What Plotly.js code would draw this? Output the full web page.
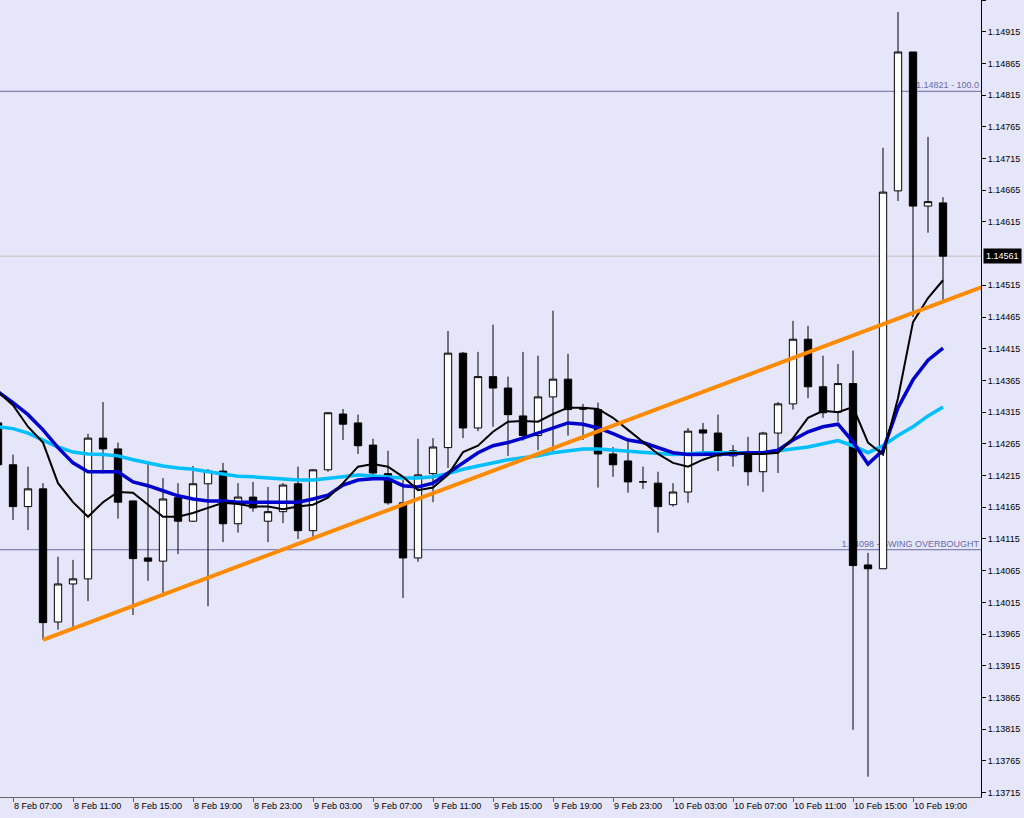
<!DOCTYPE html>
<html>
<head>
<meta charset="utf-8">
<script src="https://cdn.plot.ly/plotly-3.0.1.min.js"></script>
<style>html,body{margin:0;padding:0;background:#E6E6FA;}#chart{width:1024px;height:818px;}</style>
</head>
<body>
<div id="chart"></div>
<script>
// H1 bars, 8 Feb 06:00 -> 10 Feb 21:00
const times = [
 '2022-02-08 06:00','2022-02-08 07:00','2022-02-08 08:00','2022-02-08 09:00','2022-02-08 10:00','2022-02-08 11:00',
 '2022-02-08 12:00','2022-02-08 13:00','2022-02-08 14:00','2022-02-08 15:00','2022-02-08 16:00','2022-02-08 17:00',
 '2022-02-08 18:00','2022-02-08 19:00','2022-02-08 20:00','2022-02-08 21:00','2022-02-08 22:00','2022-02-08 23:00',
 '2022-02-09 00:00','2022-02-09 01:00','2022-02-09 02:00','2022-02-09 03:00','2022-02-09 04:00','2022-02-09 05:00',
 '2022-02-09 06:00','2022-02-09 07:00','2022-02-09 08:00','2022-02-09 09:00','2022-02-09 10:00','2022-02-09 11:00',
 '2022-02-09 12:00','2022-02-09 13:00','2022-02-09 14:00','2022-02-09 15:00','2022-02-09 16:00','2022-02-09 17:00',
 '2022-02-09 18:00','2022-02-09 19:00','2022-02-09 20:00','2022-02-09 21:00','2022-02-09 22:00','2022-02-09 23:00',
 '2022-02-10 00:00','2022-02-10 01:00','2022-02-10 02:00','2022-02-10 03:00','2022-02-10 04:00','2022-02-10 05:00',
 '2022-02-10 06:00','2022-02-10 07:00','2022-02-10 08:00','2022-02-10 09:00','2022-02-10 10:00','2022-02-10 11:00',
 '2022-02-10 12:00','2022-02-10 13:00','2022-02-10 14:00','2022-02-10 15:00','2022-02-10 16:00','2022-02-10 17:00',
 '2022-02-10 18:00','2022-02-10 19:00','2022-02-10 20:00','2022-02-10 21:00'
];
const openP = [1.14298,1.14232,1.14166,1.14194,1.13984,1.14044,1.14052,1.14274,1.14257,1.14175,1.14085,1.14080,
 1.14180,1.14143,1.14202,1.14222,1.14139,1.14181,1.14143,1.14158,1.14202,1.14128,1.14224,1.14312,
 1.14298,1.14263,1.14218,1.14172,1.14085,1.14218,1.14259,1.14408,1.14290,1.14371,1.14353,1.14309,
 1.14278,1.14339,1.14367,1.14320,1.14319,1.14249,1.14238,1.14205,1.14203,1.14169,1.14189,1.14287,
 1.14282,1.14246,1.14252,1.14221,1.14282,1.14328,1.14430,1.14355,1.14315,1.14360,1.14074,1.14068,
 1.14664,1.14883,1.14640,1.14645];
const highP = [1.14303,1.14248,1.14229,1.14203,1.14087,1.14082,1.14281,1.14331,1.14267,1.14175,1.14233,1.14211,
 1.14203,1.14230,1.14225,1.14235,1.14203,1.14205,1.14197,1.14203,1.14229,1.14225,1.14315,1.14320,
 1.14311,1.14273,1.14254,1.14208,1.14273,1.14274,1.14443,1.14410,1.14410,1.14453,1.14371,1.14410,
 1.14404,1.14475,1.14407,1.14328,1.14330,1.14260,1.14268,1.14229,1.14221,1.14203,1.14290,1.14298,
 1.14311,1.14263,1.14276,1.14284,1.14331,1.14459,1.14451,1.14404,1.14391,1.14412,1.14093,1.14732,
 1.14946,1.14883,1.14749,1.14654];
const lowP = [1.14224,1.14145,1.14129,1.13956,1.13972,1.13975,1.14017,1.14218,1.14147,1.13995,1.14049,1.14024,
 1.14091,1.14142,1.14009,1.14110,1.14125,1.14158,1.14110,1.14140,1.14115,1.14118,1.14221,1.14271,
 1.14249,1.14213,1.14169,1.14022,1.14079,1.14173,1.14227,1.14274,1.14285,1.14292,1.14246,1.14270,
 1.14255,1.14251,1.14278,1.14271,1.14196,1.14213,1.14188,1.14194,1.14125,1.14166,1.14172,1.14248,
 1.14222,1.14229,1.14199,1.14189,1.14219,1.14319,1.14337,1.14306,1.14300,1.13814,1.13740,1.14068,
 1.14648,1.14465,1.14598,1.14489];
const closeP = [1.14232,1.14166,1.14194,1.13983,1.14044,1.14052,1.14274,1.14257,1.14173,1.14084,1.14080,1.14178,
 1.14143,1.14202,1.14222,1.14139,1.14181,1.14164,1.14158,1.14200,1.14128,1.14224,1.14314,1.14296,
 1.14262,1.14219,1.14172,1.14085,1.14216,1.14260,1.14408,1.14290,1.14371,1.14353,1.14311,1.14278,
 1.14339,1.14367,1.14319,1.14320,1.14249,1.14232,1.14205,1.14205,1.14166,1.14189,1.14285,1.14282,
 1.14246,1.14254,1.14221,1.14282,1.14328,1.14430,1.14355,1.14314,1.14360,1.14073,1.14068,1.14662,
 1.14883,1.14640,1.14647,1.14561];

// moving averages
const maFast = [1.14347,1.14326,1.14292,1.14267,1.14203,1.14173,1.14150,1.14173,1.14189,1.14188,1.14169,1.14150,
 1.14150,1.14156,1.14164,1.14172,1.14170,1.14166,1.14166,1.14162,1.14166,1.14169,1.14180,1.14203,
 1.14229,1.14233,1.14229,1.14213,1.14192,1.14196,1.14216,1.14252,1.14262,1.14284,1.14300,1.14301,
 1.14300,1.14312,1.14322,1.14322,1.14320,1.14306,1.14287,1.14268,1.14249,1.14235,1.14229,1.14240,
 1.14248,1.14251,1.14249,1.14249,1.14251,1.14274,1.14306,1.14317,1.14315,1.14323,1.14267,1.14248,
 1.14337,1.14457,1.14495,1.14523];
const maMid = [1.14347,1.14330,1.14311,1.14287,1.14259,1.14235,1.14221,1.14221,1.14221,1.14205,1.14199,1.14191,
 1.14183,1.14178,1.14175,1.14175,1.14173,1.14173,1.14173,1.14173,1.14173,1.14178,1.14184,1.14200,
 1.14208,1.14210,1.14210,1.14199,1.14197,1.14203,1.14219,1.14235,1.14251,1.14262,1.14267,1.14274,
 1.14282,1.14290,1.14298,1.14296,1.14290,1.14281,1.14271,1.14267,1.14259,1.14251,1.14248,1.14248,
 1.14248,1.14249,1.14251,1.14251,1.14255,1.14271,1.14284,1.14292,1.14296,1.14268,1.14233,1.14255,
 1.14322,1.14366,1.14397,1.14416];
const maSlow = [1.14292,1.14289,1.14282,1.14271,1.14260,1.14252,1.14249,1.14248,1.14246,1.14240,1.14235,1.14230,
 1.14227,1.14225,1.14221,1.14218,1.14214,1.14213,1.14211,1.14210,1.14208,1.14208,1.14210,1.14213,
 1.14216,1.14214,1.14213,1.14211,1.14211,1.14213,1.14218,1.14225,1.14230,1.14235,1.14240,1.14243,
 1.14246,1.14251,1.14254,1.14257,1.14257,1.14255,1.14254,1.14252,1.14249,1.14248,1.14249,1.14251,
 1.14251,1.14251,1.14251,1.14251,1.14254,1.14257,1.14260,1.14265,1.14270,1.14262,1.14251,1.14262,
 1.14278,1.14292,1.14309,1.14323];

// trendline anchor points
const trendTimes = ['2022-02-08 09:00','2022-02-11 00:00'];
const trendPrices = [1.13956, 1.14516];

// horizontal levels
const levelPrices = [1.14821, 1.14098];
const levelLabels = ['1.14821 - 100.0', '1.14098 - SWING OVERBOUGHT'];
const bidPrice = 1.14561;
const bidLabel = '1.14561';

// axis ticks
const xTickVals = ['2022-02-08 07:00','2022-02-08 11:00','2022-02-08 15:00','2022-02-08 19:00','2022-02-08 23:00',
 '2022-02-09 03:00','2022-02-09 07:00','2022-02-09 11:00','2022-02-09 15:00','2022-02-09 19:00','2022-02-09 23:00',
 '2022-02-10 03:00','2022-02-10 07:00','2022-02-10 11:00','2022-02-10 15:00','2022-02-10 19:00'];
const xTickText = ['8 Feb 07:00','8 Feb 11:00','8 Feb 15:00','8 Feb 19:00','8 Feb 23:00','9 Feb 03:00','9 Feb 07:00',
 '9 Feb 11:00','9 Feb 15:00','9 Feb 19:00','9 Feb 23:00','10 Feb 03:00','10 Feb 07:00','10 Feb 11:00','10 Feb 15:00','10 Feb 19:00'];
const yTickVals = [1.13715,1.13765,1.13815,1.13865,1.13915,1.13965,1.14015,1.14065,1.14115,1.14165,1.14215,1.14265,
 1.14315,1.14365,1.14415,1.14465,1.14515,1.14615,1.14665,1.14715,1.14765,1.14815,1.14865,1.14915,1.14965];
const yTickText = ['1.13715','1.13765','1.13815','1.13865','1.13915','1.13965','1.14015','1.14065','1.14115','1.14165',
 '1.14215','1.14265','1.14315','1.14365','1.14415','1.14465','1.14515','1.14615','1.14665','1.14715','1.14765',
 '1.14815','1.14865','1.14915','1.14965'];

const FONT = 'Liberation Sans, Arial, sans-serif';
const levelColor = '#6A6AA6';

const traces = [
  {type:'scatter', mode:'lines', x:times, y:maSlow, line:{color:'#00BFFF', width:3.5}, hoverinfo:'skip', showlegend:false},
  {type:'scatter', mode:'lines', x:times, y:maMid, line:{color:'#0000CD', width:3.5}, hoverinfo:'skip', showlegend:false},
  {type:'scatter', mode:'lines', x:times, y:maFast, line:{color:'#000000', width:2}, hoverinfo:'skip', showlegend:false},
  {type:'candlestick', x:times, open:openP, high:highP, low:lowP, close:closeP,
   increasing:{line:{color:'#000000', width:1}, fillcolor:'#FFFFFF'},
   decreasing:{line:{color:'#000000', width:1}, fillcolor:'#000000'},
   whiskerwidth:0, showlegend:false, hoverinfo:'skip'},
  {type:'scatter', mode:'lines', x:trendTimes, y:trendPrices, line:{color:'#FF8C00', width:4}, hoverinfo:'skip', showlegend:false}
];

const shapes = [
  {type:'line', xref:'paper', x0:0, x1:1, yref:'y', y0:bidPrice, y1:bidPrice, layer:'below',
   line:{color:'#C0C0C0', width:1}},
];
levelPrices.forEach((p, i) => {
  shapes.push({type:'line', xref:'paper', x0:0, x1:1, yref:'y', y0:p, y1:p, layer:'below',
    line:{color:levelColor, width:1},
    label:{text:levelLabels[i], textposition:'end', xanchor:'right', yanchor:'bottom', textangle:0, padding:2,
      font:{family:FONT, size:9, color:levelColor}}});
});

const layout = {
  width:1024, height:818,
  margin:{l:0, r:43, t:0, b:21, pad:0},
  paper_bgcolor:'#E6E6FA', plot_bgcolor:'#E6E6FA',
  showlegend:false,
  boxgap:0.3,
  font:{family:FONT, size:9, color:'#000000'},
  xaxis:{type:'date', range:['2022-02-08 06:08','2022-02-10 23:32'], showgrid:false, zeroline:false,
    showline:true, linecolor:'#666666', linewidth:1, ticks:'outside', ticklen:4, tickcolor:'#666666',
    tickvals:xTickVals, ticktext:xTickText, ticklabelposition:'outside right', tickangle:0,
    tickfont:{family:FONT, size:9, color:'#000000'}, rangeslider:{visible:false}, automargin:false, fixedrange:true},
  yaxis:{side:'right', range:[1.13708, 1.14965], showgrid:false, zeroline:false,
    showline:true, linecolor:'#000000', linewidth:1, ticks:'outside', ticklen:4, tickcolor:'#000000',
    tickvals:yTickVals, ticktext:yTickText, tickfont:{family:FONT, size:9, color:'#000000'},
    automargin:false, fixedrange:true},
  shapes:shapes,
  annotations:[
    {xref:'paper', x:1, xanchor:'left', xshift:2, yref:'y', y:bidPrice, yanchor:'middle', text:bidLabel,
     showarrow:false, bgcolor:'#000000', font:{family:FONT, size:9, color:'#FFFFFF'}, borderpad:2}
  ]
};

Plotly.newPlot('chart', traces, layout, {displayModeBar:false, staticPlot:true});
</script>
</body>
</html>
